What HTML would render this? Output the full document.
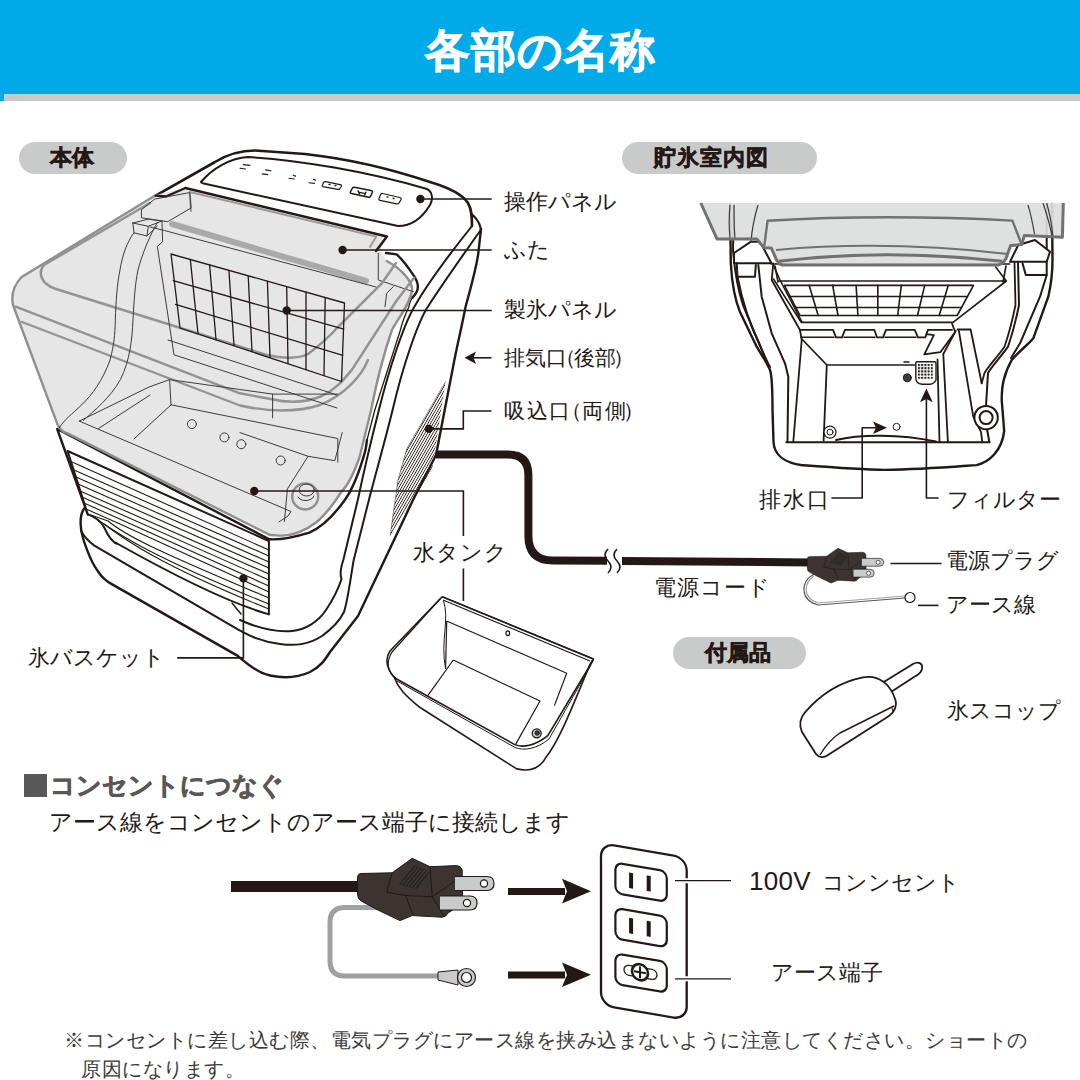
<!DOCTYPE html>
<html lang="ja">
<head>
<meta charset="utf-8">
<style>
html,body{margin:0;padding:0;background:#fff;}
body{width:1080px;height:1080px;position:relative;overflow:hidden;font-family:"Liberation Sans",sans-serif;color:#231815;}
.hdr{position:absolute;left:0;top:0;width:1080px;height:94px;background:#00a9e8;}
.hdr2{position:absolute;left:0;top:94px;width:1080px;height:7px;background:#c9caca;}
.title{position:absolute;left:0;top:21px;width:1080px;text-align:center;color:#fff;font-size:45px;font-weight:bold;line-height:60px;letter-spacing:1px;-webkit-text-stroke:0.8px #fff;}
.pill{position:absolute;background:#c9caca;border-radius:16px;height:32px;font-weight:bold;font-size:22px;line-height:32px;text-align:center;color:#231815;-webkit-text-stroke:0.6px #231815;}
.t{position:absolute;font-size:22px;line-height:22px;white-space:nowrap;color:#231815;}
svg{position:absolute;left:0;top:0;}
</style>
</head>
<body>
<div class="hdr"></div>
<div class="hdr2"></div>
<div style="position:absolute;left:0;top:94px;width:4px;height:7px;background:#00a9e8;"></div>
<div class="title">各部の名称</div>

<div class="pill" style="left:19px;top:142px;width:105px;padding-right:3px;">本体</div>
<div class="pill" style="left:622px;top:142px;width:179px;padding-right:16px;letter-spacing:1px;">貯氷室内図</div>
<div class="pill" style="left:673px;top:637px;width:130px;padding-right:3px;">付属品</div>

<div class="t" style="left:504px;top:191px;">操作パネル</div>
<div class="t" style="left:504px;top:239px;">ふた</div>
<div class="t" style="left:504px;top:299px;">製氷パネル</div>
<div class="t" style="left:504px;top:347px;font-size:21px;">排気口<span style="margin-left:-12px;margin-right:-2px">（</span>後部<span style="margin-left:-3px">）</span></div>
<div class="t" style="left:504px;top:400px;font-size:21px;letter-spacing:1.5px">吸込口<span style="margin-left:-11px;margin-right:-1px">（</span>両側<span style="margin-left:-4px">）</span></div>
<div class="t" style="left:413px;top:542px;letter-spacing:1px;">水タンク</div>
<div class="t" style="left:654px;top:577px;letter-spacing:1px;">電源コード</div>
<div class="t" style="left:28px;top:647px;">氷バスケット</div>
<div class="t" style="left:759px;top:489px;letter-spacing:2px;">排水口</div>
<div class="t" style="left:947px;top:489px;">フィルター</div>
<div class="t" style="left:946px;top:550px;">電源プラグ</div>
<div class="t" style="left:946px;top:594px;">アース線</div>
<div class="t" style="left:947px;top:700px;">氷スコップ</div>

<div style="position:absolute;left:24px;top:774px;width:23px;height:23px;background:#595757;"></div>
<div class="t" style="left:50px;top:773px;font-size:25px;line-height:25px;font-weight:bold;color:#595757;-webkit-text-stroke:0.7px #595757;">コンセントにつなぐ</div>
<div class="t" style="left:49px;top:810px;font-size:22.7px;line-height:24px;">アース線をコンセントのアース端子に接続します</div>
<div class="t" style="left:749px;top:870px;"><span style="font-size:26px;letter-spacing:0.3px">100V</span><span style="display:inline-block;width:11px"></span>コンンセント</div>
<div class="t" style="left:771px;top:962px;">アース端子</div>
<div class="t" style="left:64px;top:1026px;font-size:20px;letter-spacing:0.5px;line-height:29px;color:#3e3a39;font-feature-settings:'palt';">※コンセントに差し込む際、電気プラグにアース線を挟み込まないように注意してください。ショートの<br><span style="padding-left:17px">原因になります。</span></div>

<svg width="1080" height="1080" viewBox="0 0 1080 1080" id="art">
<!-- 10_body.svg -->
<g fill="none" stroke-linejoin="round" stroke-linecap="round">
<!-- base outline -->
<path d="M84.4,508.3 C79,515 79,530 86.7,548.9 C90,558 94,566 97.8,571.1 C102,578 106,581 112.2,584.4 L237.8,655.9 C248,665 258,673 270,675.5 C282,678 297,678 310,672 C320,667 325,660 330,652 L358,616 L413,500 L436,455 L454.4,360 C458,342 462,325 465.6,306.7 C470,290 476,270 478.3,253.3 L481,229" stroke="#231815" stroke-width="2.4" fill="#fff"/>
<!-- line B / base inner -->
<path d="M81.1,531.1 C85,538 89,542 94.4,545.6 L237.8,629.3 C250,636 262,642 280,644 C295,646 308,645 322,636 C333,628 340,620 344,612 C348,600 351,575 353.7,560 L368.9,500 C374,480 386,437 392.6,410 C403,365 418,322 427.8,306.7 C440,288 458,262 480,231" stroke="#231815" stroke-width="2"/>
<!-- line A -->
<path d="M240,620 C262,630 280,632 292,631 C305,630 318,622 326,610 C334,598 338,590 341.5,579 C340,575 341,567 343.3,560 L357.8,500 C362,480 372,437 378.9,410 C390,365 405,322 414.4,306.7 C425,288 448,256 472,226" stroke="#231815" stroke-width="2"/>
<!-- top housing -->
<path d="M155.7,195.6 L215,162 C228,154 240,150.5 255,150.5 L305,154 C360,160 400,172 430,182 C450,188 463,195 468,203 C472,210 472,218 472,226" stroke="#231815" stroke-width="2.6" fill="#fff"/>
<path d="M472.8,215 C478,220 481,226 481,232" stroke="#231815" stroke-width="2.2"/>
<!-- panel -->
<path d="M202,181 C212,169 230,158 248,157 C300,160 370,172 427,189 C433,192 433,200 430,205 C424,215 414,226 398,226 L206,184 C201,183 200,182 202,181 Z" stroke="#231815" stroke-width="2"/>
<path d="M325.4,181.7 L340.1,184.6 Q342,185 341.3,186.5 L339.6,189 Q339,189.6 337.5,189.3 L323,186.7 Q321.6,186.3 322.4,185 L323.8,182.3 Q324.3,181.5 325.4,181.7 Z" stroke="#231815" stroke-width="1.2"/>
<path d="M354.5,187.3 L371,190.4 Q373,190.8 372.3,192.5 L370.6,196.2 Q370,197.5 368.5,197.2 L351.5,193.6 Q349.8,193.2 350.5,191.6 L352.3,188.3 Q353,187 354.5,187.3 Z" stroke="#231815" stroke-width="1.5"/>
<path d="M382.5,193.5 L399.8,197.5 Q401.7,198 401,199.6 L399,203 Q398.3,204.2 396.8,203.9 L380,200.3 Q378.3,199.9 379,198.4 L380.6,194.5 Q381.2,193.2 382.5,193.5 Z" stroke="#231815" stroke-width="1.2"/>
<path d="M329,184.3 L330,184.5 M335,185.5 L336,185.7 M358,190.6 L359.5,194 M366,192 L364.6,195.3 M358.5,192.2 L365.5,193.6 M387,197 L388,197.2 M393,198.3 L394,198.5" stroke="#231815" stroke-width="1.3"/>
<path d="M243.3,164.6 L250,165.4 M240,168.3 L245.6,169 M265.6,169.9 L271,170.8 M262.2,173.9 L267.8,174.6 M293.3,175.4 L295.6,176.1 M288.9,178.3 L294.4,179 M313.3,179.4 L315.6,180.1 M308.9,182.8 L314.4,183.4" stroke="#231815" stroke-width="1.1"/>
<!-- body outline around cover right -->
<path d="M386,253 L396.7,254.4 C405,262 410,270 414.4,276.7 C417,281 418,284 417.8,286.7 C418,290 416,294 412.2,297.8 C410,302 409,305 408.9,306.7 C405,315 402,323 400.4,330 L374.8,410 L365.6,449.6 C360,470 352,490 344.8,500 C332,518 320,528 309.3,532.6 C295,537 280,540 269.3,539.3 L57.2,429 L87.8,514.4" stroke="none" fill="#fff"/>
<path d="M386,253 L396.7,254.4 C405,262 410,270 414.4,276.7 C417,281 418,284 417.8,286.7 C418,290 416,294 412.2,297.8" stroke="#231815" stroke-width="2.4"/>
<path d="M412.2,297.8 C410,302 409,305 408.9,306.7 C405,315 402,323 400.4,330 L374.8,410 L367,440" stroke="#231815" stroke-width="1.3"/>
<path d="M367,440 L365.6,449.6 C360,470 352,490 344.8,500 C332,518 320,528 309.3,532.6 C295,537 280,540 269.3,539.3 L57.2,429 L87.8,514.4" stroke="#231815" stroke-width="2.4"/>
<!-- ice basket -->
<path d="M67.6,451 L268.9,541 L268.9,614.4 C240,606 200,590 118,544 C112,543 108,536 104,527 C100,520 95,517 87.8,514.4 Z" stroke="#231815" stroke-width="2" fill="#fff"/>
<g stroke="#231815" stroke-width="1.1">
<path d="M72,462 L268.9,550"/>
<path d="M74,470 L268.9,556"/>
<path d="M76,477 L268.9,562"/>
<path d="M78,484 L268.9,568"/>
<path d="M80,491 L268.9,574"/>
<path d="M82,497 L268.9,580"/>
<path d="M84,503 L268.9,586"/>
<path d="M86,509 L120,524 L268.9,592"/>
<path d="M88,514 L108,521 C125,535 150,548 268.9,598"/>
<path d="M98,520 C120,535 150,556 268.9,604"/>
<path d="M104,524 C125,540 160,565 268.9,609"/>
</g>
<path d="M232,603 L241,614" stroke="#231815" stroke-width="1.5"/>
<!-- cover gray fill -->
<path d="M156,195 L185,188 L387,236.5 L380,250 L386.7,261 C400,270 410,280 412.2,290 C410,305 398,318 391.9,330 C385,350 376,385 371.1,410 L359.6,457 C354,473 349,484 341.9,491 C333,505 325,515 316.7,522 C305,531 292,536 279.6,535.6 L270,535 L67.6,433.4 C62,432 59,428 57.2,423.7 L13,305 C10,298 12,290 21.7,277 Z" fill="#e6e6e6" stroke="none"/>
<path d="M156,195 L21.7,277 C14,285 11,295 13,305 L57.2,423.7 C59,428 62,432 67.6,433.4 L270,535 L279.6,535.6 C292,536 305,531 316.7,522 C325,515 333,505 341.9,491 C349,484 354,473 359.6,457 L371.1,410 C376,385 385,350 391.9,330 C398,318 410,305 412.2,290 C412,280 400,268 386.7,261" stroke="#8f8f8f" stroke-width="2.4"/>
<!-- lid -->
<path d="M185.4,188 L387,236.5 L376,251" stroke="#231815" stroke-width="2.4"/>
<path d="M166,196.5 L185.4,188 M155.7,195.6 L166,196.5" stroke="#231815" stroke-width="2.4"/>
<path d="M172,224 L366,281" stroke="#a9a9a9" stroke-width="6"/>
<path d="M191,211 L189.7,192 L376.3,236.6 L370,247" stroke="#9a9a9a" stroke-width="2"/>
<path d="M150,227 L164.4,230.5 L376.3,287.1 M378.3,253.3 L378.3,280 L413.3,291.7 M393.3,286.7 L386.7,293.3 L385,306.7" stroke="#3e3a39" stroke-width="1"/>
<!-- rim gray lines -->
<path d="M150,203 L44,265 C38,272 40,284 56,289 L266,354.8 C285,359 298,359 308,354 C320,345 330,336 337,328 L381.5,283.7 L396,263" stroke="#939393" stroke-width="2.5"/>
<path d="M15.6,306.7 L240,393.3 L271.9,399.3 C292,404 310,401 322,396 C338,388 345,378 352,369.6 L396,301.5 L414,277.8" stroke="#939393" stroke-width="2.5"/>
<path d="M22,322 L240,405.5 C265,411 295,413 320,405 C345,395 362,375 368,360" stroke="#939393" stroke-width="2.4"/>
<!-- handle boxes -->
<path d="M141.8,209.4 L154.8,199 L189.8,192.6 L191,208 L167.7,221.7 L141.8,217.9 Z" stroke="#3e3a39" stroke-width="1"/>
<path d="M132.8,223 L148.3,219.2 L162,221 L162.6,241.8 L157.4,246.4 M132.8,223 L134,232.8 L147,236 L148.3,226.3 L132.8,223 M148.3,226.3 L162,221 M147,236 L157.4,226" stroke="#3e3a39" stroke-width="1"/>
<!-- arches -->
<path d="M134,232.8 C127,242 122.4,254.8 120,270 C117,285 116,300 115.3,320 C115,335 114,345 110,360 C103,380 92,395 81.5,405 C72,414 64,420 59.3,427.8" stroke="#3e3a39" stroke-width="1"/>
<path d="M157.4,222.4 C150,235 141.8,254.8 138,270 C135,285 134,300 133,320 C132,340 130,360 120.4,379.6 C110,398 95,410 83.3,420.4" stroke="#3e3a39" stroke-width="1"/>
<!-- grid panel -->
<path d="M157.4,247 L174,354.8 L337,408" stroke="#3e3a39" stroke-width="1"/>
<path d="M168,340 L337,395" stroke="#3e3a39" stroke-width="1"/>
<g stroke="#231815" stroke-width="1.3">
<path d="M171,254 L344.5,303 L341.5,381.5 L180,328 Z"/>
<path d="M173.2,280.7 L343.7,329.2 M175.5,304.4 L342.8,355.4"/>
<path d="M190.3,259.4 L198,333.5 M209.6,264.9 L216,339.5 M228.9,270.3 L234,345.5 M248.2,275.8 L252,351.5 M267.4,281.2 L270,357.5 M286.7,286.7 L288,363.5 M306,292.1 L306,369.5 M325.2,297.6 L324,375.5"/>
</g>
<!-- tray lines -->
<path d="M79.3,421.1 L291,511.5 L288,516 L279,521.9" stroke="#3e3a39" stroke-width="1"/>
<path d="M79.3,421.1 L149,387 L169.6,379.6 L171,404.8 M169.6,379.6 L272.6,394.1 L272.6,417.8 M272.6,394.1 L337.8,394.1" stroke="#3e3a39" stroke-width="1"/>
<path d="M98.5,428.5 L150,395 M134,438.9 L171.1,404.8 L337.8,438.5 L337.8,462.2" stroke="#3e3a39" stroke-width="1"/>
<path d="M342.2,432.6 L334.8,460.7 L308.1,456.3 L287.4,488.9 L284.4,521.5 M240,432.6 L308.1,456.3" stroke="#3e3a39" stroke-width="1"/>
<circle cx="191.9" cy="424.1" r="4.5" stroke="#3e3a39" stroke-width="1"/>
<circle cx="224.4" cy="437.4" r="4.5" stroke="#3e3a39" stroke-width="1"/>
<circle cx="241.3" cy="444.2" r="4.5" stroke="#3e3a39" stroke-width="1"/>
<circle cx="280.7" cy="460.5" r="4.5" stroke="#3e3a39" stroke-width="1"/>
<!-- tank cap -->
<circle cx="305.2" cy="496.5" r="13" stroke="#8f8f8f" stroke-width="2.4"/>
<ellipse cx="306.7" cy="490" rx="7.5" ry="6" stroke="#3e3a39" stroke-width="1"/>
<path d="M298,497 C300,502 312,502 314,496" stroke="#3e3a39" stroke-width="1"/>
<!-- intake grille -->
<defs><pattern id="grl" width="2.3" height="10" patternUnits="userSpaceOnUse" patternTransform="rotate(30)"><rect x="0" y="0" width="0.8" height="10" fill="#231815"/></pattern></defs>
<path d="M445.4,381.8 L432,470.8 L390.2,535.4 L398,480 L406.8,448.7 Z" fill="url(#grl)" stroke="none"/>
<path d="M445.4,381.8 L406.8,448.7 L398,480 L390.2,535.4" stroke="#231815" stroke-width="0.5"/>

</g>

<!-- 20_interior.svg -->
<g fill="none" stroke="#231815" stroke-linejoin="round" stroke-linecap="round">
<!-- outer silhouette -->
<path d="M730,204 L730.8,263.3 C732,285 735,300 740,312 L756.7,346.7 C762,356 768,364 770,370 C772,376 772.5,390 772.5,410 L773.5,441.7 C774,455 785,463 802.3,465.2 C840,468 860,469.5 885,469.9 C920,469.5 950,467 976.5,465.1 C990,462 1002,450 1004.2,431 L1001.7,400 C1001.7,385 1004,374 1011.7,360 C1020,350 1028,345 1033.3,338.3 L1048.3,296.7 C1051,285 1052.5,275 1052.5,260 L1052,204" stroke-width="2.4" fill="#fff"/>
<path d="M734,204 L733,250 C735,275 738,290 743,305 L760,346 C764,354 766,360 770,367" stroke-width="2"/>
<path d="M1046.7,204 L1046.7,275 L1040,296.7 L1020,343.3 L1011,358" stroke-width="2"/>
<!-- left pillar -->
<path d="M734,253 L751,241.7 L760,241.7 L771.5,263.3 L734,263.3 Z" stroke-width="2" fill="#fff"/>
<path d="M736.7,263.3 L737.5,276.7 L755,276.7 L755.8,265" stroke-width="2"/>
<path d="M737.5,276.7 C742,300 750,325 760,345 L768.3,366.7" stroke-width="2"/>
<path d="M758.3,265 L761.7,296.7 L771.7,333.3 L785,363.3 L788.3,376.7 L787.5,441.7" stroke-width="2"/>
<path d="M773.3,263.3 L771.7,280 L800,330 L801.7,340 L793.3,441.7" stroke-width="1.8"/>
<path d="M773.3,265 L780,280 L801.7,321.7" stroke-width="1.6"/>
<!-- right pillar -->
<path d="M1010,261.7 L1018.3,245 L1035,240 L1050,251.7 L1046.7,261.7 Z" stroke-width="2" fill="#fff"/>
<path d="M1022.5,263.3 L1025.8,275 L1046.7,275" stroke-width="2"/>
<path d="M1018,263 L1019,305 C1016,320 1012,335 1008,346.7 C1000,358 992,366 988,373 L986,406" stroke-width="2"/>
<path d="M1014.5,263 L1015.5,305 C1012.5,320 1008.5,335 1004.5,346.7 C996.5,358 988.5,366 984.5,373 L981.7,383.3" stroke-width="1.8"/>
<!-- under lid band -->
<path d="M771.5,264 L1009.6,264" stroke-width="1.6"/>
<path d="M775,266 L778,282 M1006,266 L1003,282" stroke-width="1.6"/>
<!-- grid frame -->
<path d="M778.8,281 L1006.3,281 L995.7,267 M773.5,279 L801.2,322.4 L953,322.4 L1006.3,281" stroke-width="1.6"/>
<path d="M784.4,285.4 L973.5,285.4 L957.2,315.5 L800,315.5 Z" stroke-width="1.6"/>
<path d="M790,296.5 L967.5,296.5 M796,307.4 L961.5,307.4" stroke-width="1.5"/>
<path d="M809.2,285.4 L818.2,315.5 M832.7,285.4 L838,315.5 M856.1,285.4 L857.9,315.5 M877.8,285.4 L877.8,315.5 M901.3,285.4 L897.7,315.5 M924.7,285.4 L917.5,315.5 M948.2,285.4 L939.2,315.5" stroke-width="1.6"/>
<!-- shelf -->
<path d="M800,329.9 L833,329.9 L836,337.3 L842,337.3 L845,329.9 L874.3,329.9 L877,337.3 L883,337.3 L886,329.9 L914.7,329.9 L918,337.3 L925.4,337.3 L928,329.9 L952,329.9" stroke-width="1.8"/>
<path d="M801,337.3 L834,337.3 M844,337.3 L875,337.3 M885,337.3 L916,337.3" stroke-width="1.6"/>
<path d="M926.4,334.1 L933.9,335.2 L924.3,354.4 L940.3,352.2 L955.2,332 L952,323.5" stroke-width="1.8"/>
<!-- floor walls -->
<path d="M802.3,339.5 L826.8,365 L823.6,440.7" stroke-width="1.8"/>
<path d="M826.8,365 L915,365" stroke-width="1.6"/>
<path d="M786.3,442.3 L989.4,442.3" stroke-width="2"/>
<path d="M957.6,329.5 L970.6,329.5 L981.7,383.3 M958.9,330.8 L973.2,416.4 L981,431.9 L982.3,442.3" stroke-width="1.8"/>
<path d="M955.7,330.8 L943.3,354 L947.9,442.3 M937.5,359.3 L939.5,442.3" stroke-width="1.8"/>
<path d="M986.8,428 L989.4,442.3" stroke-width="2"/>
<!-- ring right -->
<circle cx="986.1" cy="417.6" r="11.7" stroke-width="2" fill="#fff"/>
<circle cx="986.1" cy="417.6" r="6.5" stroke-width="2"/>
<!-- filter -->
<path d="M917,361.8 L935,361.8 Q936,362 936,364 L936,380 Q934,384 930,384.2 L922,384.2 Q916,384 915.8,378 L915.8,363 Q916,362 917,361.8 Z" stroke-width="1.4" fill="#fff"/>
<g stroke="none" fill="#231815">
<rect x="918" y="364" width="16" height="16" fill="url(#dots)"/>
</g>
<circle cx="907.3" cy="377.8" r="4" stroke-width="1" fill="#3e3a39"/>
<path d="M904,362 L909,362" stroke-width="1.5"/>
<!-- drain -->
<circle cx="830" cy="432.1" r="6" stroke-width="1.2" fill="#fff"/>
<circle cx="830" cy="432.1" r="3" stroke-width="1"/>
<circle cx="896.6" cy="426.8" r="3.5" stroke-width="1" fill="#fff"/>
<path d="M836,440 C860,434 900,434 936,441.5" stroke-width="2"/>
<!-- leaders -->
<path d="M832,498 L862.2,498 L862.2,427.8 L876,427.8" stroke-width="1.6"/>
<path d="M938,498 L926.4,498 L926.4,398" stroke-width="1.6"/>
</g>
<defs><pattern id="dots" x="918" y="364" width="3.2" height="3.2" patternUnits="userSpaceOnUse"><rect width="2" height="2" fill="#231815"/></pattern></defs>
<path d="M887,427.8 L873,421.5 L876,427.8 L873,434.1 Z" fill="#231815"/>
<path d="M926.4,388.4 L920,402.3 L926.4,399 L932.8,402.3 Z" fill="#231815"/>
<!-- lid -->
<path d="M700.8,203 L1063.3,203 L1062.4,237.2 L1024.4,235.4 L1021.7,244.6 L1010.6,245.6 L1006,258.5 Q1003,264 998,265.9 L782,265.9 Q777,264 776.7,260.4 L771.3,248 L764,247.8 L756.8,239 L717,239 Z" fill="#dcdddd" fill-opacity="0.92"/>
<g fill="none" stroke-linejoin="round">
<path d="M730,205 C729,215 729,228 730,238 M734,205 C734,215 734,228 735,238 M758,205 C755,215 752,228 751,242 M1028,204.8 C1031,215 1033,225 1034.6,234.4 M1043,203 C1047,215 1051,228 1052.2,238.1 M1046.7,203 C1050,215 1052,225 1053.1,238" stroke="#3e3a39" stroke-width="1.2"/>
<path d="M700.8,203 L717,239 L756.8,239 L764,247.8 L771.3,248 L776.7,260.4 Q779,264 782,265 L998,265 Q1003,264 1006,258.5 L1010.6,245.6 L1021.7,244.6 L1024.4,235.4 L1062.4,237.2 L1063.3,203" stroke="#727171" stroke-width="3"/>
<path d="M764,247.8 L767.6,220.7 Q885,214 1012.4,220.6 L1021.7,244.6" stroke="#727171" stroke-width="2.4"/>
<path d="M776,250 Q885,240 1007.8,253.9" stroke="#727171" stroke-width="2"/>
<path d="M778.9,261.3 Q885,248 1002.2,261.3" stroke="#727171" stroke-width="3"/>
</g>

<!-- 30_leaders.svg -->
<g stroke="#231815" stroke-width="1.6" fill="none">
<path d="M420.4,199 L491.7,199"/>
<path d="M342.6,250 L491.7,250"/>
<path d="M286.7,310.5 L491.7,310.5"/>
<path d="M428.9,428.9 L463.3,428.9 L463.3,411 L491.5,411"/>
<path d="M254.3,491 L463.4,491 L463.4,536 M463.4,568.5 L463.4,601"/>
<path d="M243.4,578.4 L243.4,657.9 L177.2,657.9"/>
<path d="M472,357.8 L491.5,357.8"/>
<path d="M890.5,563.5 L941.5,563.5"/>
<path d="M918,605.4 L938.4,605.4"/>
</g>
<path d="M464.6,357.8 L476,351.5 L473.5,357.8 L476,364.1 Z" fill="#231815"/>
<g fill="#231815">
<circle cx="420.4" cy="199" r="4.2"/>
<circle cx="342.6" cy="250" r="4.2"/>
<circle cx="286.7" cy="310.5" r="4.2"/>
<circle cx="428.9" cy="428.9" r="4.2"/>
<circle cx="254.3" cy="491" r="4.2"/>
<circle cx="243.4" cy="578.4" r="4.2"/>
</g>

<!-- 40_cord.svg -->
<path d="M436,454.4 L508,454.4 Q528.4,454.4 528.4,475 L528.4,536 Q528.4,560.5 553,560.5 L607,560.7" fill="none" stroke="#231815" stroke-width="8"/>
<path d="M622,561 L812,562.5" fill="none" stroke="#231815" stroke-width="8"/>
<path d="M608,549 C604,553 604,557 608,561 C612,565 612,569 608,573" fill="none" stroke="#231815" stroke-width="1.6"/>
<path d="M617,549 C613,553 613,557 617,561 C621,565 621,569 617,573" fill="none" stroke="#231815" stroke-width="1.6"/>
<!-- small plug -->
<path d="M814,574 C800,582 800,600 818,605 L905,598" fill="none" stroke="#595757" stroke-width="1.2"/>
<path d="M814,576 C803,584 803,598 818,603 L905,596" fill="none" stroke="#9fa0a0" stroke-width="1.2"/>
<circle cx="910" cy="597.5" r="5" fill="#fff" stroke="#231815" stroke-width="1.2"/>
<use href="#plugshape" transform="translate(807,548) scale(0.56) translate(-357,-858)"/>

<!-- 50_bottom.svg -->
<defs>
<g id="plugshape">
  <path d="M361,873.5 L392.2,872.8 L412.2,858.3 L430,866.7 L456.7,865.6 Q461,866 462.2,870 L462.5,898 Q462,904 457,907 L448,913 Q446,917 442.2,917.2 L412.2,915.6 L400,920.6 L377.8,910 L361.1,901 Q357.5,899 357.5,894 L357.5,877 Q358,873.5 361,873.5 Z" fill="#3b3431" stroke="#231815" stroke-width="1"/>
  <path d="M386.7,892.2 L405.6,895.6 L432.2,896.7 L461,877 M405.6,895.6 L413.3,915.6 M432.2,896.7 L444.4,916.7 M392.2,872.8 L386.7,892.2 M430,866.7 L432.2,896.7" fill="none" stroke="#231815" stroke-width="1"/>
  <path d="M398.9,884.4 L414.4,865.6 L430,872.2 L416.7,888.9 Z" fill="#2b2523"/>
  <path d="M402,884 L416,867 M405,885 L419,868 M408,886 L422,869 M411,887 L425,870 M414,888 L428,871" stroke="#4a4240" stroke-width="0.9"/>
  <path d="M455,876.5 L487,876.5 Q494,876.5 494,883.5 Q494,890.5 487,890.5 L455,890.5" fill="#c9caca" stroke="#231815" stroke-width="1.2"/>
  <circle cx="484" cy="883.5" r="3.6" fill="#fff" stroke="#231815" stroke-width="1.2"/>
  <path d="M440,896 L470,896 Q477,896 477,903 Q477,910 470,910 L440,910" fill="#c9caca" stroke="#231815" stroke-width="1.2"/>
  <circle cx="467" cy="903" r="3.6" fill="#fff" stroke="#231815" stroke-width="1.2"/>
</g>
</defs>
<!-- cord bottom -->
<rect x="231" y="881" width="130" height="11" fill="#231815"/>
<!-- earth wire -->
<path d="M378,907.5 L345,907.5 Q330,907.5 330,922.5 L330,961 Q330,976 345,976 L440,976" fill="none" stroke="#9fa0a0" stroke-width="5"/>
<path d="M438,972 L458,970 L458,985 L438,980 Z" fill="#c9caca" stroke="#231815" stroke-width="1"/>
<circle cx="466.5" cy="977.5" r="9" fill="#c9caca" stroke="#231815" stroke-width="1.2"/>
<circle cx="466.5" cy="977.5" r="5" fill="#fff" stroke="#231815" stroke-width="1.2"/>
<use href="#plugshape"/>
<!-- arrows -->
<path d="M508,888 L565,888 L565,895 L508,895 Z M562,878.8 L591,891.3 L562,903.6 L567,891.3 Z" fill="#231815"/>
<path d="M508,971.4 L565,971.4 L565,978.4 L508,978.4 Z M562,962.4 L591,974.8 L562,987 L567,974.8 Z" fill="#231815"/>
<!-- outlet -->
<g transform="matrix(1,0.17,0,1,0,-102)" fill="none" stroke="#231815">
  <rect x="601" y="843" width="85.7" height="162" rx="13" stroke-width="2.3" fill="#fff"/>
  <rect x="615.4" y="860" width="51.4" height="30.5" rx="7" stroke-width="2.2"/>
  <rect x="615.4" y="905.4" width="51.4" height="30.5" rx="7" stroke-width="2.2"/>
  <rect x="615.4" y="950.8" width="51.4" height="30.5" rx="7" stroke-width="2.2"/>
  <path d="M631.1,867.5 L631.1,883 M648.7,867.5 L648.7,883 M631.1,912.9 L631.1,928.4 M648.7,912.9 L648.7,928.4" stroke-width="4"/>
  <rect x="624" y="960.5" width="33" height="10" rx="5" stroke-width="1.3" fill="#fff"/>
  <circle cx="640" cy="965.5" r="8" stroke-width="2.6" fill="#fff"/>
  <path d="M640,959.5 L640,971.5 M634,965.5 L646,965.5" stroke-width="2"/>
</g>
<!-- leaders -->
<path d="M675,880.7 L731,880.7 M675,978.8 L731,978.8" stroke="#fff" stroke-width="5"/>
<path d="M675,880.7 L731,880.7 M675,978.8 L731,978.8" stroke="#231815" stroke-width="1.3"/>

<!-- 60_tank.svg -->
<g fill="none" stroke="#231815" stroke-linejoin="round">
<!-- outer body -->
<path d="M442.2,596.7 L593.3,658.9 L590,664.4 C575,700 560,740 545.6,757.8 C540,768 530,772 516.7,768.9 L418.9,706.7 C405,695 398,688 394.4,677.8 C388,670 384,660 390,651 Z" stroke-width="1.6" fill="#fff"/>
<!-- rim double line -->
<path d="M442.2,596.7 L593.3,658.9" stroke-width="1.2"/>
<path d="M443,600 L590,661" stroke-width="1.2"/>
<path d="M440,599 L392,652 C386,662 387,672 396,678" stroke-width="1.2"/>
<!-- front rim -->
<path d="M394.4,677.8 L514.4,744.4 C522,748 535,746 547.8,735.6 L593.3,660" stroke-width="1.6"/>
<path d="M397,681 L515,747.5 C524,751 537,749 549,739 L591,665" stroke-width="1"/>
<!-- inner back wall -->
<path d="M446.7,621 L566.7,673.3 L554.4,705.6" stroke-width="1.2"/>
<path d="M446.7,621 L445.6,668.9" stroke-width="1.2"/>
<path d="M443.3,600 C450,620 440,640 445.6,668.9" stroke-width="1"/>
<!-- inner floor -->
<path d="M453.3,660 L540,701 L515.6,744.4 M453.3,660 L427.8,695.6" stroke-width="1.2"/>
<ellipse cx="507.8" cy="633.3" rx="1.8" ry="2.4" stroke-width="1.2"/>
<circle cx="536.7" cy="733.3" r="4.5" stroke-width="1.3" fill="#c9caca"/>
<circle cx="537.2" cy="733" r="2.2" stroke-width="1" fill="#3e3a39"/>
</g>

<!-- 70_scoop.svg -->
<g fill="none" stroke="#231815" stroke-linejoin="round">
<path d="M883.7,681.9 L913,664 C918,661 923,663 922,669 C921,673 918,675 914,677 L891,692" stroke-width="1.8" fill="#fff"/>
<path d="M863,677.4 C840,682 820,695 805.2,712.2 C800,718 799,725 802,732 L816,754 C819,758 824,758 828,755 L889,716 C895,712 897,705 895.6,700.4 C893,692 889,686 883.7,681.9 C877,677 870,676 863,677.4 Z" stroke-width="1.8" fill="#fff"/>
<path d="M820,755 C826,745 832,738 840,733 L894,706" stroke-width="1.4"/>
<path d="M893,712 L892,708" stroke-width="1"/>
</g>

</svg>
</body>
</html>
